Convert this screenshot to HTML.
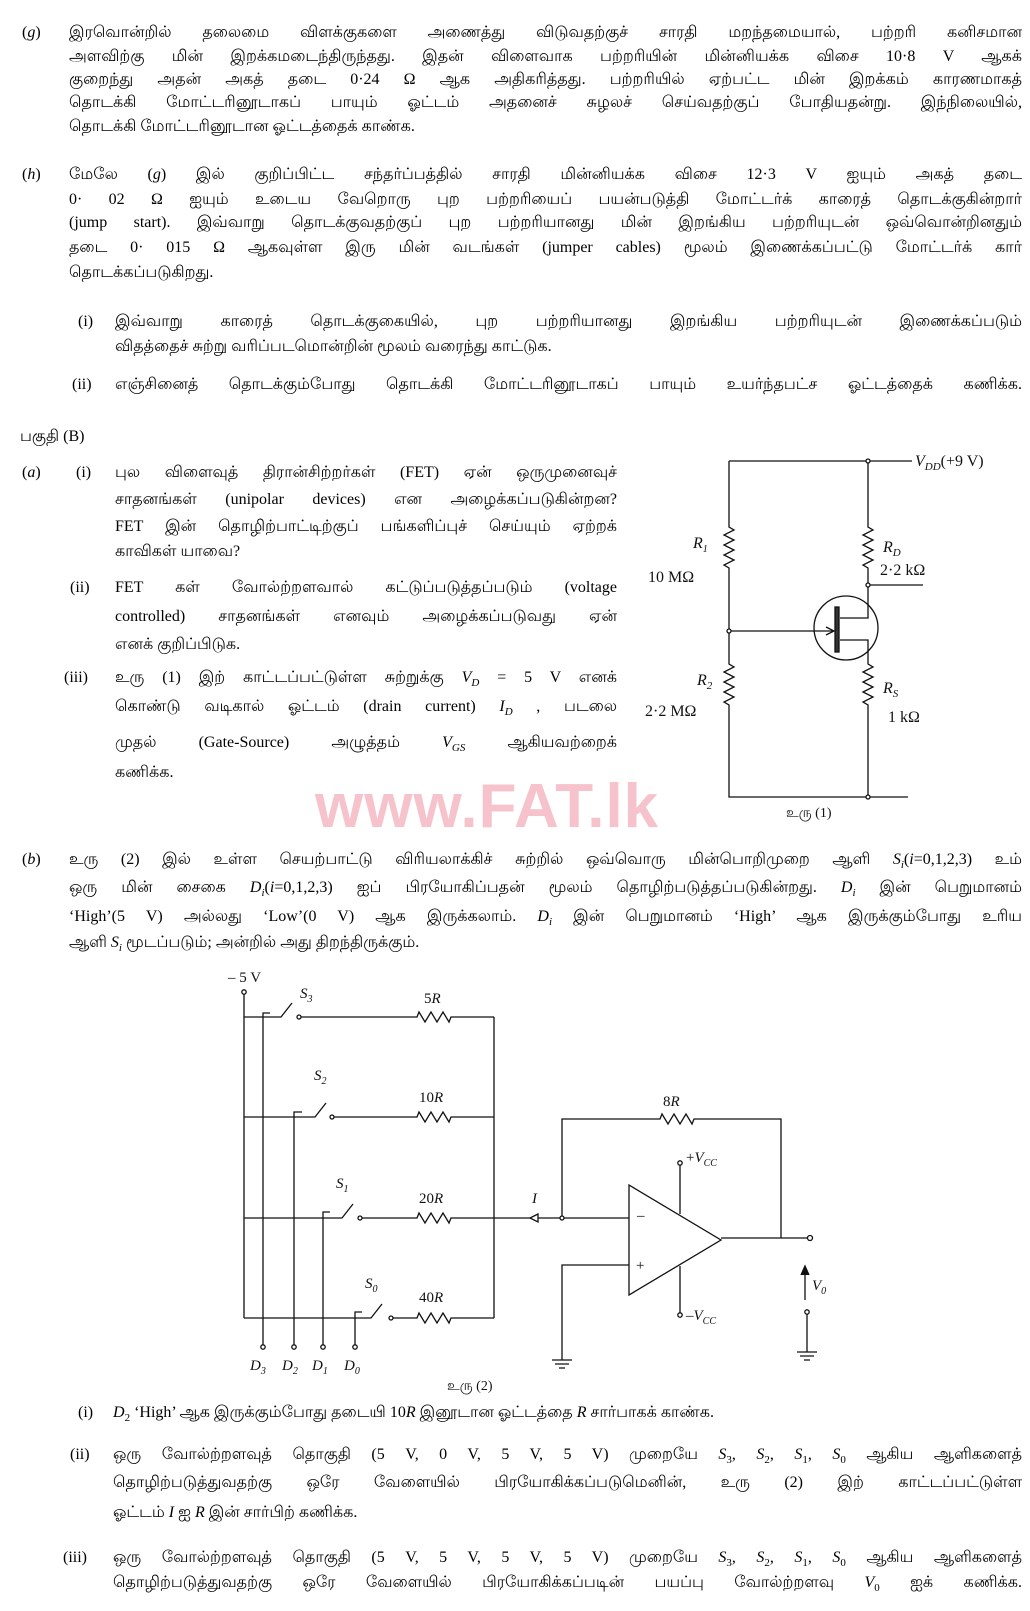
<!DOCTYPE html>
<html><head><meta charset="utf-8">
<style>
html,body{margin:0;padding:0;background:#fff;}
body{width:1030px;height:1611px;position:relative;overflow:hidden;font-family:"Liberation Serif","Noto Sans CJK SC",serif;color:#000;}
.l{position:absolute;font-size:16px;line-height:20px;height:20px;white-space:nowrap;text-align:justify;text-align-last:justify;overflow:visible;font-weight:500;}
.lb{position:absolute;font-size:16px;line-height:20px;white-space:nowrap;font-weight:500;}
sub{font-size:11px;line-height:0;}
i{font-style:italic;}
svg{position:absolute;left:0;top:0;}
.wm{position:absolute;left:315px;top:772px;font-family:"Liberation Sans",sans-serif;font-weight:bold;font-size:62px;color:#f6c3cc;letter-spacing:1px;line-height:70px;}
</style></head><body>
<div class="wm">www.FAT.lk</div>

<div class="lb" style="left:22px;top:23px">(<i>g</i>)</div>
<div class="l" style="left:69px;width:953px;top:23px">இரவொன்றில் தலைமை விளக்குகளை அணைத்து விடுவதற்குச் சாரதி மறந்தமையால், பற்றரி கனிசமான</div>
<div class="l" style="left:69px;width:953px;top:47px">அளவிற்கு மின் இறக்கமடைந்திருந்தது. இதன் விளைவாக பற்றரியின் மின்னியக்க விசை 10·8 V ஆகக்</div>
<div class="l" style="left:69px;width:953px;top:70px">குறைந்து அதன் அகத் தடை 0·24 Ω ஆக அதிகரித்தது. பற்றரியில் ஏற்பட்ட மின் இறக்கம் காரணமாகத்</div>
<div class="l" style="left:69px;width:953px;top:93px">தொடக்கி மோட்டரினூடாகப் பாயும் ஓட்டம் அதனைச் சுழலச் செய்வதற்குப் போதியதன்று. இந்நிலையில்,</div>
<div class="lb" style="left:69px;top:117px">தொடக்கி மோட்டரினூடான ஓட்டத்தைக் காண்க.</div>

<div class="lb" style="left:22px;top:165px">(<i>h</i>)</div>
<div class="l" style="left:69px;width:953px;top:165px">மேலே (<i>g</i>) இல் குறிப்பிட்ட சந்தர்ப்பத்தில் சாரதி மின்னியக்க விசை 12·3 V ஐயும் அகத் தடை</div>
<div class="l" style="left:69px;width:953px;top:190px">0· 02 Ω ஐயும் உடைய வேறொரு புற பற்றரியைப் பயன்படுத்தி மோட்டர்க் காரைத் தொடக்குகின்றார்</div>
<div class="l" style="left:69px;width:953px;top:213px">(jump start). இவ்வாறு தொடக்குவதற்குப் புற பற்றரியானது மின் இறங்கிய பற்றரியுடன் ஒவ்வொன்றினதும்</div>
<div class="l" style="left:69px;width:953px;top:238px">தடை 0· 015 Ω ஆகவுள்ள இரு மின் வடங்கள் (jumper cables) மூலம் இணைக்கப்பட்டு மோட்டர்க் கார்</div>
<div class="lb" style="left:69px;top:263px">தொடக்கப்படுகிறது.</div>
<div class="lb" style="left:78px;top:312px">(i)</div>
<div class="l" style="left:115px;width:907px;top:312px">இவ்வாறு காரைத் தொடக்குகையில், புற பற்றரியானது இறங்கிய பற்றரியுடன் இணைக்கப்படும்</div>
<div class="lb" style="left:115px;top:337px">விதத்தைச் சுற்று வரிப்படமொன்றின் மூலம் வரைந்து காட்டுக.</div>
<div class="lb" style="left:72px;top:375px">(ii)</div>
<div class="l" style="left:115px;width:907px;top:375px">எஞ்சினைத் தொடக்கும்போது தொடக்கி மோட்டரினூடாகப் பாயும் உயர்ந்தபட்ச ஓட்டத்தைக் கணிக்க.</div>

<div class="lb" style="left:20px;top:427px">பகுதி (B)</div>
<div class="lb" style="left:22px;top:463px">(<i>a</i>)</div>
<div class="lb" style="left:76px;top:463px">(i)</div>
<div class="l" style="left:115px;width:502px;top:463px">புல விளைவுத் திரான்சிற்றர்கள் (FET) ஏன் ஒருமுனைவுச்</div>
<div class="l" style="left:115px;width:502px;top:490px">சாதனங்கள் (unipolar devices) என அழைக்கப்படுகின்றன?</div>
<div class="l" style="left:115px;width:502px;top:517px">FET இன் தொழிற்பாட்டிற்குப் பங்களிப்புச் செய்யும் ஏற்றக்</div>
<div class="lb" style="left:115px;top:542px">காவிகள் யாவை?</div>
<div class="lb" style="left:70px;top:578px">(ii)</div>
<div class="l" style="left:115px;width:502px;top:578px">FET கள் வோல்ற்றளவால் கட்டுப்படுத்தப்படும் (voltage</div>
<div class="l" style="left:115px;width:502px;top:607px">controlled) சாதனங்கள் எனவும் அழைக்கப்படுவது ஏன்</div>
<div class="lb" style="left:115px;top:635px">எனக் குறிப்பிடுக.</div>
<div class="lb" style="left:64px;top:668px">(iii)</div>
<div class="l" style="left:115px;width:502px;top:668px">உரு (1) இற் காட்டப்பட்டுள்ள சுற்றுக்கு <i>V<sub>D</sub></i> = 5 V எனக்</div>
<div class="l" style="left:115px;width:502px;top:697px">கொண்டு வடிகால் ஓட்டம் (drain current) <i>I<sub>D</sub></i> , படலை</div>
<div class="l" style="left:115px;width:502px;top:733px">முதல் (Gate-Source) அழுத்தம் <i>V<sub>GS</sub></i> ஆகியவற்றைக்</div>
<div class="lb" style="left:115px;top:763px">கணிக்க.</div>

<div class="lb" style="left:22px;top:850px">(<i>b</i>)</div>
<div class="l" style="left:69px;width:953px;top:850px">உரு (2) இல் உள்ள செயற்பாட்டு விரியலாக்கிச் சுற்றில் ஒவ்வொரு மின்பொறிமுறை ஆளி <i>S<sub>i</sub></i>(<i>i</i>=0,1,2,3) உம்</div>
<div class="l" style="left:69px;width:953px;top:878px">ஒரு மின் சைகை <i>D<sub>i</sub></i>(<i>i</i>=0,1,2,3) ஐப் பிரயோகிப்பதன் மூலம் தொழிற்படுத்தப்படுகின்றது. <i>D<sub>i</sub></i> இன் பெறுமானம்</div>
<div class="l" style="left:69px;width:953px;top:907px">‘High’(5 V) அல்லது ‘Low’(0 V) ஆக இருக்கலாம். <i>D<sub>i</sub></i> இன் பெறுமானம் ‘High’ ஆக இருக்கும்போது உரிய</div>
<div class="lb" style="left:69px;top:933px">ஆளி <i>S<sub>i</sub></i> மூடப்படும்; அன்றில் அது திறந்திருக்கும்.</div>

<div class="lb" style="left:78px;top:1403px">(i)</div>
<div class="lb" style="left:113px;top:1403px"><i>D</i><sub>2</sub> ‘High’ ஆக இருக்கும்போது தடையி 10<i>R</i> இனூடான ஓட்டத்தை <i>R</i> சார்பாகக் காண்க.</div>
<div class="lb" style="left:70px;top:1445px">(ii)</div>
<div class="l" style="left:113px;width:909px;top:1445px">ஒரு வோல்ற்றளவுத் தொகுதி (5 V, 0 V, 5 V, 5 V) முறையே <i>S</i><sub>3</sub>, <i>S</i><sub>2</sub>, <i>S</i><sub>1</sub>, <i>S</i><sub>0</sub> ஆகிய ஆளிகளைத்</div>
<div class="l" style="left:113px;width:909px;top:1473px">தொழிற்படுத்துவதற்கு ஒரே வேளையில் பிரயோகிக்கப்படுமெனின், உரு (2) இற் காட்டப்பட்டுள்ள</div>
<div class="lb" style="left:113px;top:1503px">ஓட்டம் <i>I</i> ஐ <i>R</i> இன் சார்பிற் கணிக்க.</div>
<div class="lb" style="left:63px;top:1548px">(iii)</div>
<div class="l" style="left:113px;width:909px;top:1548px">ஒரு வோல்ற்றளவுத் தொகுதி (5 V, 5 V, 5 V, 5 V) முறையே <i>S</i><sub>3</sub>, <i>S</i><sub>2</sub>, <i>S</i><sub>1</sub>, <i>S</i><sub>0</sub> ஆகிய ஆளிகளைத்</div>
<div class="l" style="left:113px;width:909px;top:1573px">தொழிற்படுத்துவதற்கு ஒரே வேளையில் பிரயோகிக்கப்படின் பயப்பு வோல்ற்றளவு <i>V</i><sub>0</sub> ஐக் கணிக்க.</div>

<svg width="1030" height="1611" viewBox="0 0 1030 1611" font-family="Liberation Serif, serif" font-size="15" fill="none" stroke="#111" stroke-width="1.3">
<path d="M729,461 H912"/>
<path d="M729,461 V527 l5,3 l-10,5 l10,5 l-10,5 l10,5 l-10,5 l10,5 l-10,5 l5,3 V664 l5,3 l-10,5 l10,5 l-10,5 l10,5 l-10,5 l10,5 l-10,5 l5,3 V797 H908"/>
<path d="M868,461 V527 l5,3 l-10,5 l10,5 l-10,5 l10,5 l-10,5 l10,5 l-10,5 l5,3 V618 H840"/>
<path d="M868,585 H923"/>
<path d="M840,640 H868 V664 l5,3 l-10,5 l10,5 l-10,5 l10,5 l-10,5 l10,5 l-10,5 l5,3 V797"/>
<circle cx="846" cy="628" r="32"/>
<rect x="835" y="607" width="4" height="45" fill="#333"/>
<path d="M729,631 H834"/>
<path d="M826,627 L834,631 L826,635" />
<g fill="#fff"><circle cx="868" cy="461" r="2"/><circle cx="868" cy="585" r="2"/><circle cx="729" cy="631" r="2"/><circle cx="868" cy="797" r="2"/></g>
<g fill="#111" stroke="none">
<text x="915" y="466" font-style="italic" font-size="16">V<tspan font-size="11" dy="4">DD</tspan><tspan font-style="normal" dy="-4" font-size="16">(+9 V)</tspan></text>
<text x="693" y="548" font-style="italic" font-size="16">R<tspan font-size="10" dy="4">1</tspan></text>
<text x="648" y="582" font-size="16">10 MΩ</text>
<text x="883" y="552" font-style="italic" font-size="16">R<tspan font-size="11" dy="4">D</tspan></text>
<text x="880" y="575" font-size="16">2·2 kΩ</text>
<text x="697" y="685" font-style="italic" font-size="16">R<tspan font-size="11" dy="4">2</tspan></text>
<text x="645" y="716" font-size="16">2·2 MΩ</text>
<text x="883" y="693" font-style="italic" font-size="16">R<tspan font-size="11" dy="4">S</tspan></text>
<text x="888" y="722" font-size="16">1 kΩ</text>
<text x="786" y="817" font-size="14">உரு (1)</text>
</g>

<path d="M244,992 V1318"/>
<path d="M263,1347 V1013 H270"/>
<path d="M294,1347 V1112 H302"/>
<path d="M323,1347 V1212 H330"/>
<path d="M355,1347 V1312 H362"/>
<path d="M244,1017 H281 L292,1003"/><path d="M299,1017 H417 l2,-5 l6,10 l6,-10 l6,10 l6,-10 l6,10 l2,-5 H494"/>
<path d="M244,1117 H315 L326,1103"/><path d="M332,1117 H417 l2,-5 l6,10 l6,-10 l6,10 l6,-10 l6,10 l2,-5 H494"/>
<path d="M244,1218 H342 L353,1204"/><path d="M360,1218 H417 l2,-5 l6,10 l6,-10 l6,10 l6,-10 l6,10 l2,-5 H629"/>
<path d="M244,1318 H371 L382,1304"/><path d="M391,1318 H417 l2,-5 l6,10 l6,-10 l6,10 l6,-10 l6,10 l2,-5 H494"/>
<path d="M494,1017 V1318"/>
<path d="M538,1214 L530,1218 L538,1222 Z" fill="#fff"/>
<path d="M562,1218 V1119 H660 l2,-5 l6,10 l6,-10 l6,10 l6,-10 l6,10 l2,-5 H781 V1238"/>
<path d="M629,1185 L721,1240 L629,1295 Z"/>
<path d="M680,1163 V1214"/><path d="M680,1266 V1315"/>
<path d="M721,1238 H810"/>
<path d="M629,1265 H562 V1360"/>
<path d="M552,1360 H572 M555,1364 H569 M559,1368 H565"/>
<path d="M807,1312 V1352"/>
<path d="M797,1352 H817 M800,1356 H814 M804,1360 H810"/>
<path d="M805,1300 V1268"/><path d="M801,1275 L805,1266 L809,1275" fill="#111"/>
<g fill="#fff"><circle cx="244" cy="992" r="2.2"/><circle cx="263" cy="1347" r="2.2"/><circle cx="294" cy="1347" r="2.2"/><circle cx="323" cy="1347" r="2.2"/><circle cx="355" cy="1347" r="2.2"/>
<circle cx="299" cy="1017" r="2"/><circle cx="332" cy="1117" r="2"/><circle cx="360" cy="1218" r="2"/><circle cx="391" cy="1318" r="2"/>
<circle cx="680" cy="1163" r="2.2"/><circle cx="680" cy="1315" r="2.2"/><circle cx="810" cy="1238" r="2.5"/><circle cx="807" cy="1312" r="2.2"/><circle cx="562" cy="1218" r="2"/></g>
<g fill="#111" stroke="none">
<text x="228" y="982">– 5 V</text>
<text x="300" y="998" font-style="italic">S<tspan font-size="10" dy="4">3</tspan></text>
<text x="314" y="1080" font-style="italic">S<tspan font-size="10" dy="4">2</tspan></text>
<text x="336" y="1188" font-style="italic">S<tspan font-size="10" dy="4">1</tspan></text>
<text x="365" y="1288" font-style="italic">S<tspan font-size="10" dy="4">0</tspan></text>
<text x="424" y="1003">5<tspan font-style="italic">R</tspan></text>
<text x="419" y="1102">10<tspan font-style="italic">R</tspan></text>
<text x="419" y="1203">20<tspan font-style="italic">R</tspan></text>
<text x="419" y="1302">40<tspan font-style="italic">R</tspan></text>
<text x="663" y="1106">8<tspan font-style="italic">R</tspan></text>
<text x="532" y="1203" font-style="italic">I</text>
<text x="637" y="1220">–</text>
<text x="636" y="1270">+</text>
<text x="686" y="1162">+<tspan font-style="italic">V</tspan><tspan font-style="italic" font-size="10" dy="4">CC</tspan></text>
<text x="686" y="1320">–<tspan font-style="italic">V</tspan><tspan font-style="italic" font-size="10" dy="4">CC</tspan></text>
<text x="812" y="1290" font-style="italic">V<tspan font-size="10" dy="4">0</tspan></text>
<text x="250" y="1370" font-style="italic">D<tspan font-size="10" dy="4">3</tspan></text>
<text x="282" y="1370" font-style="italic">D<tspan font-size="10" dy="4">2</tspan></text>
<text x="312" y="1370" font-style="italic">D<tspan font-size="10" dy="4">1</tspan></text>
<text x="344" y="1370" font-style="italic">D<tspan font-size="10" dy="4">0</tspan></text>
<text x="447" y="1390" font-size="14">உரு (2)</text>
</g>
</svg>
</body></html>
